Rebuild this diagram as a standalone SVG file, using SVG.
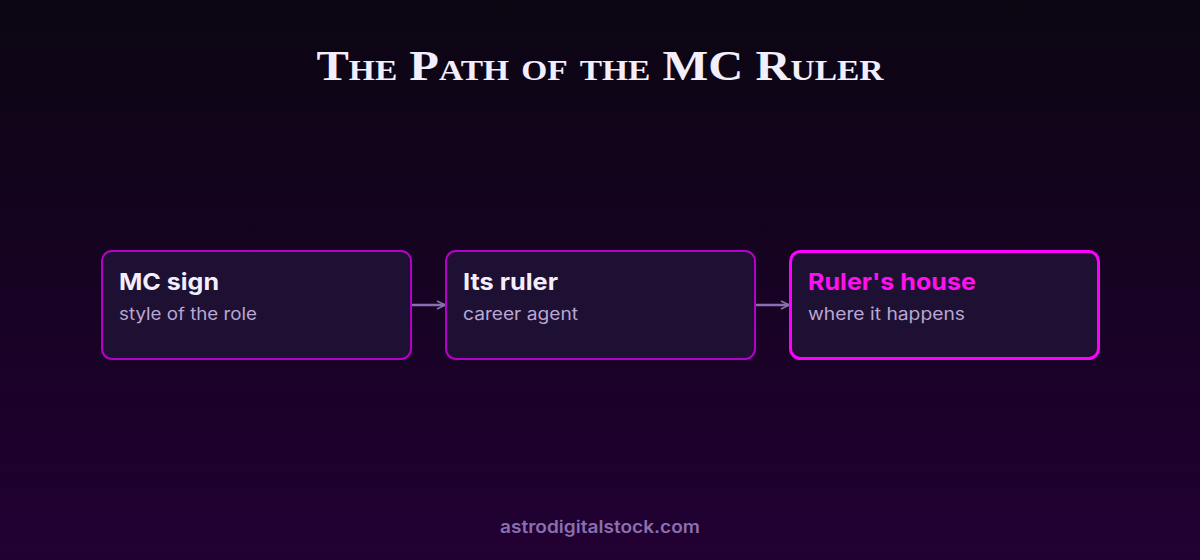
<svg xmlns="http://www.w3.org/2000/svg" width="1200" height="560" viewBox="0 0 1200 560">
<defs>
<linearGradient id="bg" x1="0" y1="0" x2="0" y2="1">
<stop offset="0" stop-color="#0b0612"/>
<stop offset="1" stop-color="#220033"/>
</linearGradient>
<marker id="arr" viewBox="0 0 10 10" refX="9" refY="5" markerWidth="10" markerHeight="10" markerUnits="userSpaceOnUse" orient="auto">
<path d="M1,1 L9,5 L1,9" fill="none" stroke="#8a6fb0" stroke-width="1.6"/>
</marker>
<style>
.box{fill:#1e1032;stroke:#b400c8;stroke-width:2}
.hl{fill:#1e1032;stroke:#ff00ff;stroke-width:3}
.h{font-family:Inter,"Noto Sans",sans-serif;font-weight:700;font-size:23px;fill:#f3eefc}
.s{font-family:Inter,"Noto Sans",sans-serif;font-size:17px;fill:#b9a8d4}
.c{stroke:#8a6fb0;stroke-width:2.5;fill:none;marker-end:url(#arr)}
</style>
</defs>
<rect width="1200" height="560" fill="url(#bg)"/>
<text x="600" y="80" text-anchor="middle" font-family="'Liberation Serif',serif" font-weight="700" font-size="42" font-variant="small-caps" fill="#f3eefc" textLength="567" lengthAdjust="spacingAndGlyphs">The Path of the MC Ruler</text>
<g id="connectors">
<line class="c" x1="411" y1="305" x2="445" y2="305"/>
<line class="c" x1="755" y1="305" x2="789" y2="305"/>
</g>
<g id="node-mc-sign">
<rect class="box" x="102" y="251" width="309" height="108" rx="10"/>
<text class="h" x="119" y="290" textLength="100" lengthAdjust="spacingAndGlyphs">MC sign</text>
<text class="s" x="119" y="320" textLength="138" lengthAdjust="spacingAndGlyphs">style of the role</text>
</g>
<g id="node-its-ruler">
<rect class="box" x="446" y="251" width="309" height="108" rx="10"/>
<text class="h" x="463" y="290" textLength="95" lengthAdjust="spacingAndGlyphs">Its ruler</text>
<text class="s" x="463" y="320" textLength="115" lengthAdjust="spacingAndGlyphs">career agent</text>
</g>
<g id="node-rulers-house">
<rect class="hl" x="790.5" y="251.5" width="308" height="107" rx="10"/>
<text class="h" x="808" y="290" style="fill:#ff10f0" textLength="168" lengthAdjust="spacingAndGlyphs">Ruler's house</text>
<text class="s" x="808" y="320" textLength="157" lengthAdjust="spacingAndGlyphs">where it happens</text>
</g>
<text x="600" y="533" text-anchor="middle" font-family="Inter,'Noto Sans',sans-serif" font-weight="600" font-size="17" fill="#8a6fb0" textLength="200" lengthAdjust="spacingAndGlyphs">astrodigitalstock.com</text>
</svg>
